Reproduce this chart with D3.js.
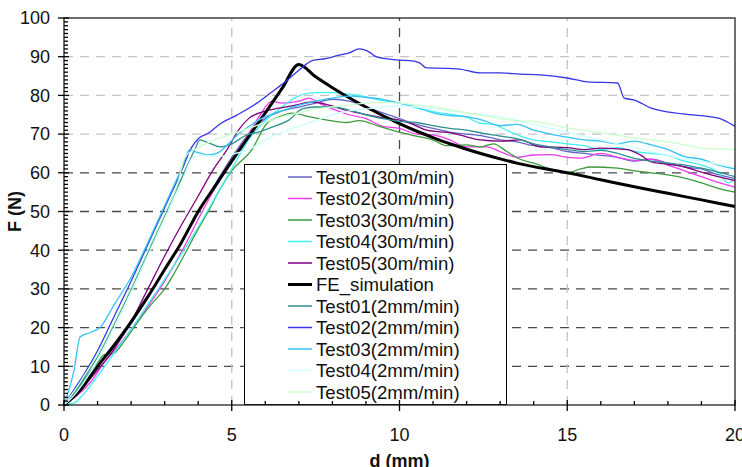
<!DOCTYPE html>
<html>
<head>
<meta charset="utf-8">
<script src="https://cdn.jsdelivr.net/npm/d3@7"></script>
<style>
	body { margin: 0; background: #fff; }
	text { font-family: "Liberation Sans", Arial, sans-serif; fill: #111; }
	.title { font-weight: bold; font-size: 18px; }
	.tick-label { font-size: 18px; }
	.legend-label { font-size: 18.6px; }
</style>
</head>
<body>
<svg width="742" height="467"></svg>
<script>
//* data (d in mm, F in N)
const test01_30 = [[0,0],[0.3,3],[0.7,7],[1,10],[1.5,15],[2,21],[2.5,28],[3,35],[3.5,42],[4,49.5],[4.5,57],[5,64],[5.5,70],[6,74],[6.5,76],[7,77],[7.5,78],[8,79],[8.5,78.5],[9,77],[9.5,75.5],[10,74],[10.5,72.5],[11,71.5],[11.5,70.5],[12,70],[12.5,69.5],[13,68.5],[13.5,68],[14,67],[14.5,66.5],[15,65.5],[15.5,65],[16,64.5],[16.5,64],[17,63],[17.5,63.5],[18,62.5],[18.5,61.5],[19,61],[19.5,59.5],[20,58.5]];
const test02_30 = [[0,0],[0.4,2.5],[0.8,6],[1.2,11],[1.6,15],[2,19.5],[2.5,25.5],[3,32],[3.5,39.5],[4,48],[4.5,56],[5,63],[5.5,70],[5.85,75],[6.2,78.5],[6.5,78],[7,78.5],[7.3,79.3],[7.6,78],[8,76.5],[8.5,75],[9,74],[9.5,72],[10,71.5],[10.5,70],[11,69.8],[11.5,68.5],[12,66.7],[12.6,66.7],[13,65.5],[13.5,64],[14,64.6],[14.5,64.7],[15,64],[15.4,63.8],[16,65],[16.5,64],[17,63.2],[17.5,63.5],[18,62],[18.5,60.5],[19,59],[19.5,57.5],[20,56.3]];
const test03_30 = [[0,0],[0.3,3],[0.6,6.5],[1,11],[1.2,13],[1.45,13.2],[1.8,16.5],[2.2,21.5],[2.6,26],[3,30],[3.25,33.5],[3.66,40],[4,45.5],[4.3,50],[4.6,55],[5,60.5],[5.6,66],[6.05,72.8],[6.4,74.4],[6.8,75.4],[7.3,74.5],[7.6,74],[8,73.4],[8.4,73],[8.8,73.5],[9.4,72],[10,70.5],[10.5,69.5],[11,68.5],[11.4,67],[12,67.2],[12.4,66.7],[12.8,67.5],[13.2,65.5],[13.6,63.5],[14,62.5],[14.5,61],[15,60],[15.4,61],[15.7,61.5],[16.5,61.2],[17,60.5],[17.5,60],[18.3,59],[19,57.4],[19.5,56],[20,55]];
const test04_30 = [[0,0],[0.3,0.5],[0.6,3],[1,7.5],[1.5,13.5],[2,19.5],[2.5,26],[3,32.5],[3.5,39],[4,46],[4.5,53.5],[5,61],[5.5,68.5],[6,73.5],[6.5,77],[6.9,79.5],[7.3,80.6],[7.8,80.8],[8.3,80.5],[8.8,80],[9.4,78.8],[10,78],[10.4,77],[10.8,76.2],[11.2,75.5],[11.6,75],[12,74.4],[12.4,72.8],[12.8,72.5],[13.2,71],[13.6,69.5],[14,68.5],[14.5,68],[15,67.5],[15.5,67],[16,66],[16.5,66.5],[17,65.5],[17.5,65],[18,64.5],[18.5,63],[19,62],[19.5,60],[19.8,57.4],[20,58.5]];
const test05_30 = [[0,0],[0.3,2.5],[0.7,6],[1,9],[1.5,14.5],[2,21.5],[2.5,30],[3,38.5],[3.5,46.5],[4,54],[4.44,60.7],[4.86,66],[5.2,71],[5.5,74],[5.9,75.7],[6.4,76.7],[6.9,77.5],[7.4,78.3],[7.9,77.5],[8.4,76.2],[8.9,75.2],[9.4,74.4],[10,73.6],[10.4,72.5],[10.8,71],[11.2,70.6],[11.6,70.2],[12,69.3],[12.4,68.5],[13,68.2],[13.6,68.5],[14.2,66.7],[15,66.5],[15.5,66],[16,66.4],[16.8,66],[17.2,64.5],[17.5,62.8],[18,62.2],[18.5,61.5],[19,60.2],[19.5,59],[20,58]];
const feSim = [[0,0],[0.5,4],[1,10],[1.5,15.5],[2,21.5],[2.5,28],[3,35],[3.5,42],[4,50],[4.5,56.5],[5,63],[5.5,69.3],[6,75.5],[6.5,81.8],[7,88],[7.5,84.8],[8,82],[8.5,79.4],[9,77],[9.5,74.8],[10,72.7],[10.5,70.8],[11,69.1],[11.5,67.5],[12,66.1],[12.5,64.8],[13,63.6],[13.5,62.5],[14,61.6],[14.5,60.8],[15,60],[16,58.2],[17,56.4],[18,54.7],[19,53],[20,51.3]];
const test01_2 = [[0,0],[0.3,3],[0.6,7],[1,12.5],[1.5,21],[2,30],[2.5,39.5],[3,49],[3.5,58.5],[3.9,66],[4.05,68.5],[4.3,67.8],[4.65,66.7],[5,67.5],[5.45,69.8],[5.8,70.5],[6.2,71.8],[6.7,73.6],[7.1,76.5],[7.5,77],[8,77],[8.5,76.2],[9,75],[9.5,74],[10,73.3],[10.5,73],[11,72.2],[11.5,71.5],[12,71],[12.5,70.2],[13,69.5],[13.5,68.8],[14,67.5],[14.5,66.7],[15,66],[15.5,65.5],[16,65.8],[16.5,65],[17,63.7],[17.5,63],[18,62.5],[18.5,62],[19,61.2],[19.5,60.2],[20,59]];
const test02_2 = [[0,0],[0.3,4],[0.6,8],[1,14],[1.5,23],[2,32],[2.5,41.5],[3,51],[3.5,60.5],[3.8,66.5],[4,68.8],[4.3,70.2],[4.65,72.6],[5.15,74.9],[5.75,78],[6.15,80.6],[6.55,83.2],[7,86.5],[7.4,89],[7.8,89.5],[8.2,90.4],[8.5,91],[8.8,92],[9.1,91.2],[9.3,90],[9.6,89.5],[10,89.1],[10.3,89],[10.6,88.4],[10.8,87.1],[11.4,87],[11.8,86.8],[12.4,85.8],[13,85.8],[13.6,85.5],[14.2,85.3],[15,84.5],[15.6,83.5],[16.5,83.2],[16.7,79.3],[17,78.8],[17.5,76.7],[18.45,75.2],[19.5,74.1],[19.8,73],[20,72]];
const test03_2 = [[0,0],[0.3,9],[0.48,17.6],[0.8,18.8],[1.07,20],[1.5,26],[2,33],[2.5,42],[3,51.5],[3.5,61],[3.75,66],[3.9,65.5],[4.1,65],[4.3,64.6],[4.6,65.2],[4.9,67.5],[5.2,70],[5.6,72.5],[6,74.5],[6.5,76],[7,77.5],[7.5,78.5],[8,79.3],[8.5,79.8],[9,79.5],[9.5,79],[10,78],[10.5,77],[11,75.5],[11.5,74.8],[12,74.5],[12.5,73.5],[13,72.2],[13.5,72.5],[14,71],[14.5,70],[15,69.2],[15.5,68.5],[16,68.2],[16.5,67.5],[17,68.2],[17.5,67.2],[18,66],[18.5,64.2],[19,63.5],[19.5,62],[20,61]];
const test04_2 = [[0,0],[0.3,2.5],[0.6,6],[1,11.5],[1.5,20],[2,29],[2.5,38.5],[3,48],[3.5,57.5],[3.85,64],[4.2,64.5],[4.6,64.2],[5,64.8],[5.5,66],[6,68.5],[6.5,70.5],[7,72],[7.5,73.5],[8,75],[8.5,76],[9,76.5],[9.5,77],[10,77.3],[10.5,77],[11,76.5],[11.5,76],[12,75.5],[12.5,75],[13,74.5],[13.5,73.5],[14,72.5],[14.5,71.5],[15,70.5],[15.5,69.5],[16,68.5],[16.5,67.5],[17,66.5],[17.5,65.5],[18,64.5],[18.5,63.5],[19,63],[19.5,62.2],[20,61.5]];
const test05_2 = [[0,0],[0.3,3.5],[0.6,7.5],[1,13],[1.5,21.5],[2,30.5],[2.5,40],[3,49.5],[3.4,57.5],[3.6,64],[4,66.5],[4.5,68.5],[5,70],[5.5,71.5],[6,73],[6.5,74.5],[7,75.5],[7.5,76.5],[8,77],[8.5,77.5],[9,78],[9.5,78.2],[10,78],[10.5,77.5],[11,77],[11.5,76.3],[12,75.5],[12.5,74.8],[13,74],[13.5,73.5],[14,73.3],[14.5,72.5],[15,71.6],[15.5,71],[16,70.3],[16.5,69.7],[17,69],[17.5,68.5],[18,68],[18.5,67.2],[19,66.4],[19.5,66.2],[20,66]];

const seriesNames = ["Test01(30m/min)", "Test02(30m/min)", "Test03(30m/min)", "Test04(30m/min)", "Test05(30m/min)", "FE_simulation", "Test01(2mm/min)", "Test02(2mm/min)", "Test03(2mm/min)", "Test04(2mm/min)", "Test05(2mm/min)"];
const seriesValues = [test01_30, test02_30, test03_30, test04_30, test05_30, feSim, test01_2, test02_2, test03_2, test04_2, test05_2];

const xTicks = [0, 5, 10, 15, 20];
const yTicks = [0, 10, 20, 30, 40, 50, 60, 70, 80, 90, 100];
const xMinorTicks = d3.range(0, 21, 1);
const yMinorTicks = d3.range(0, 101, 1);

//* styles
const lineColors = ["#6565c4", "#f03cf0", "#3c9a3c", "#3ef0f0", "#800080", "#000000", "#2f9090", "#3535e8", "#33c4f4", "#ccffff", "#ccffcc"];
const lineWidths = [1.3, 1.3, 1.3, 1.3, 1.3, 3, 1.3, 1.3, 1.3, 1.3, 1.3];

const svg = d3.select("svg");
svg.append("rect").attr("width", 742).attr("height", 467).style("fill", "#fff");

//* scales
const x = d3.scaleLinear().domain([0, 20]).range([64, 735]);
const y = d3.scaleLinear().domain([0, 100]).range([405, 18]);
const lineGenerator = d3
	.line()
	.curve(d3.curveMonotoneX)
	.x((d) => x(d[0]))
	.y((d) => y(d[1]));

//* grid
const grid = svg.append("g").attr("class", "grid");
grid
	.selectAll("line.h")
	.data(yTicks.filter((v) => v > 0 && v < 100))
	.enter()
	.append("line")
	.attr("x1", x(0))
	.attr("x2", x(20))
	.attr("y1", (d) => y(d))
	.attr("y2", (d) => y(d))
	.style("stroke", (d) => (d <= 60 ? "#4a4a4a" : "#c4c4c4"))
	.style("stroke-width", 1.3)
	.style("stroke-dasharray", "9,7");
grid
	.selectAll("line.v")
	.data(xTicks.filter((v) => v > 0 && v < 20))
	.enter()
	.append("line")
	.attr("x1", (d) => x(d))
	.attr("x2", (d) => x(d))
	.attr("y1", y(0))
	.attr("y2", y(100))
	.style("stroke", (d) => (d === 10 ? "#4a4a4a" : "#c4c4c4"))
	.style("stroke-width", 1.3)
	.style("stroke-dasharray", "9,7");

//* curves
svg
	.append("g")
	.selectAll("path")
	.data(seriesValues)
	.enter()
	.append("path")
	.attr("d", (d) => lineGenerator(d))
	.style("fill", "none")
	.style("stroke", (_, i) => lineColors[i])
	.style("stroke-width", (_, i) => lineWidths[i])
	.style("stroke-linejoin", "round");

//* legend
const legend = svg.append("g").attr("class", "legend");
legend
	.append("rect")
	.attr("x", 244.5)
	.attr("y", 164.5)
	.attr("width", 262)
	.attr("height", 240)
	.style("fill", "#fff")
	.style("stroke", "#000")
	.style("stroke-width", 1);
const items = legend
	.selectAll("g.item")
	.data(seriesNames)
	.enter()
	.append("g")
	.attr("class", "item")
	.attr("transform", (_, i) => `translate(0, ${177 + i * 21.5})`);
items
	.append("line")
	.attr("x1", 288)
	.attr("x2", 312)
	.style("stroke", (_, i) => lineColors[i])
	.style("stroke-width", (_, i) => (i === 5 ? 3 : 1.5));
items
	.append("text")
	.attr("class", "legend-label")
	.attr("x", 316)
	.attr("dy", "0.35em")
	.text((d) => d);

//* frame and axes
svg
	.append("rect")
	.attr("x", x(0))
	.attr("y", y(100))
	.attr("width", x(20) - x(0))
	.attr("height", y(0) - y(100))
	.style("fill", "none")
	.style("stroke", "#222")
	.style("stroke-width", 1.3);

const axes = svg.append("g").style("stroke", "#000").style("stroke-width", 1.3);
axes
	.selectAll("line.xminor")
	.data(xMinorTicks)
	.enter()
	.append("line")
	.attr("x1", (d) => x(d))
	.attr("x2", (d) => x(d))
	.attr("y1", (d) => (d % 5 === 0 ? y(0) + 6 : y(0)))
	.attr("y2", (d) => (d % 5 === 0 ? y(0) - 5 : y(0) - 4));
axes
	.selectAll("line.yminor")
	.data(yMinorTicks)
	.enter()
	.append("line")
	.attr("y1", (d) => y(d))
	.attr("y2", (d) => y(d))
	.attr("x1", (d) => (d % 10 === 0 ? x(0) - 6 : x(0)))
	.attr("x2", (d) => (d % 10 === 0 ? x(0) + 5 : x(0) + 4));

//* tick labels
svg
	.selectAll("text.xt")
	.data(xTicks)
	.enter()
	.append("text")
	.attr("class", "tick-label")
	.attr("x", (d) => x(d))
	.attr("y", 441)
	.attr("text-anchor", "middle")
	.text((d) => d);
svg
	.selectAll("text.yt")
	.data(yTicks)
	.enter()
	.append("text")
	.attr("class", "tick-label")
	.attr("x", 50)
	.attr("y", (d) => y(d))
	.attr("dy", "0.35em")
	.attr("text-anchor", "end")
	.text((d) => d);

//* axis titles
svg
	.append("text")
	.attr("class", "title")
	.attr("x", x(10))
	.attr("y", 467)
	.attr("text-anchor", "middle")
	.text("d (mm)");
svg
	.append("text")
	.attr("class", "title")
	.attr("transform", `translate(21, ${(y(0) + y(100)) / 2}) rotate(-90)`)
	.attr("text-anchor", "middle")
	.text("F (N)");
</script>
</body>
</html>
